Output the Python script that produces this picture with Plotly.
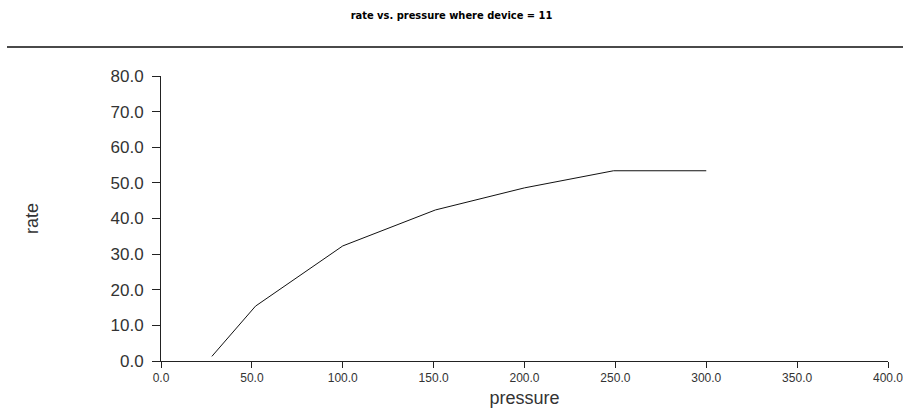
import plotly.graph_objects as go

# rate measured against pressure for device 11
pressure = [28, 52, 100, 151, 200, 249, 300]
rate = [1.3, 15.4, 32.3, 42.4, 48.6, 53.4, 53.4]

x_ticks = [0, 50, 100, 150, 200, 250, 300, 350, 400]
y_ticks = [0, 10, 20, 30, 40, 50, 60, 70, 80]

W, H = 903, 411
L, R, T, B = 161, 15, 76, 50
plot_w = W - L - R
plot_h = H - T - B

fig = go.Figure()
fig.add_trace(go.Scatter(
    x=pressure, y=rate, mode="lines",
    line=dict(color="#111111", width=1),
    showlegend=False, hoverinfo="x+y",
))

# rule under the title, spanning nearly the full width
rule_y = 1 + (T - 47) / plot_h
fig.add_shape(
    type="line", xref="paper", yref="paper",
    x0=(7 - L) / plot_w, x1=(W - L) / plot_w,
    y0=rule_y, y1=rule_y,
    line=dict(color="#4a4a4a", width=2),
)

fig.update_layout(
    width=W, height=H,
    margin=dict(l=L, r=R, t=T, b=B, autoexpand=False),
    paper_bgcolor="white", plot_bgcolor="white",
    title=dict(
        text="<b>rate vs. pressure where device = 11</b>",
        x=0.5, xref="container", xanchor="center",
        y=1 - 15 / H, yref="container", yanchor="middle",
        font=dict(family="DejaVu Sans Condensed, Liberation Sans Narrow, Arial Narrow, sans-serif",
                  size=11, color="#000000"),
    ),
    font=dict(family="Liberation Sans, Arial, sans-serif", color="#222222"),
    xaxis=dict(
        range=[0, 400], tickvals=x_ticks, tickformat=".1f",
        showgrid=False, zeroline=False, automargin=False,
        ticklabeloverflow="allow",
        showline=True, linecolor="#222222", linewidth=1,
        ticks="outside", ticklen=6, tickcolor="#222222", tickwidth=1,
        tickfont=dict(size=12, color="#333333"),
        title=dict(text="pressure", font=dict(size=18, color="#333333"), standoff=6),
        fixedrange=True,
    ),
    yaxis=dict(
        range=[0, 80], tickvals=y_ticks, tickformat=".1f",
        showgrid=False, zeroline=False, automargin=False,
        showline=True, linecolor="#222222", linewidth=1,
        ticks="outside", ticklen=8, tickcolor="#222222", tickwidth=1,
        ticklabelstandoff=5,
        tickfont=dict(size=17, color="#333333"),
        title=dict(text="rate", font=dict(size=18, color="#333333"), standoff=67),
        fixedrange=True,
    ),
)

fig.write_html("out.html")
